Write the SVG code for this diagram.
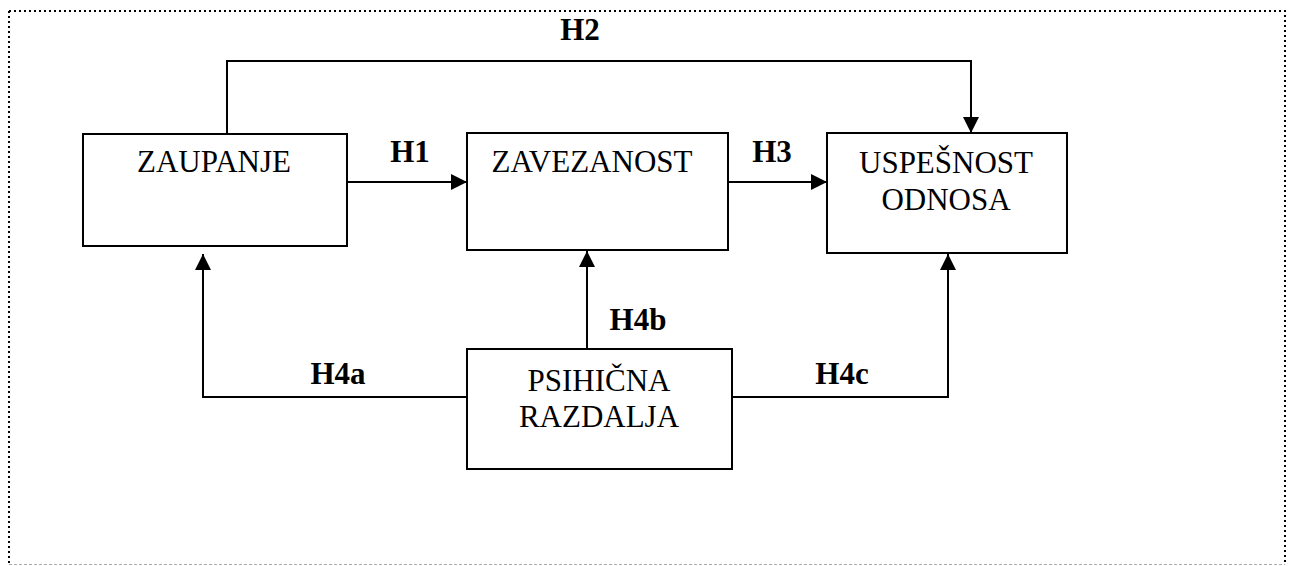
<svg xmlns="http://www.w3.org/2000/svg" width="1294" height="566" viewBox="0 0 1294 566">
  <style>
    .box { fill: #fff; stroke: #000; stroke-width: 2; }
    .name { font-family: "Liberation Serif", "Times New Roman", serif; font-size: 31px; fill: #000; text-anchor: middle; }
    .hyp { font-family: "Liberation Serif", "Times New Roman", serif; font-size: 31px; font-weight: bold; fill: #000; text-anchor: middle; }
    .link { fill: none; stroke: #000; stroke-width: 2; marker-end: url(#head); }
  </style>
  <defs>
    <marker id="head" markerUnits="userSpaceOnUse" markerWidth="16" markerHeight="16" refX="16" refY="8" orient="auto">
      <path d="M0,0 L16,8 L0,16 z" fill="#000"/>
    </marker>
  </defs>
  <rect width="1294" height="566" fill="#fff"/>

  <!-- dotted outer frame -->
  <g id="frame">
    <path d="M9 11 H1285 V565" fill="none" stroke="#000" stroke-width="2" stroke-dasharray="2 3"/>
    <path d="M9 11 V565" fill="none" stroke="#000" stroke-width="2" stroke-dasharray="2 3"/>
    <path d="M9 564.5 H1285" fill="none" stroke="#aaa" stroke-width="1" stroke-dasharray="3 2"/>
  </g>

  <!-- connectors and hypothesis labels -->
  <g id="connectors">
    <path class="link" d="M227 134 V61 H971 V133"/>
    <path class="link" d="M347 182 H467"/>
    <path class="link" d="M728 182 H827"/>
    <path class="link" d="M467 397 H203 V254"/>
    <path class="link" d="M587 349 V251"/>
    <path class="link" d="M732 397 H948 V254"/>
    <text class="hyp" x="580" y="40">H2</text>
    <text class="hyp" x="410" y="162">H1</text>
    <text class="hyp" x="772" y="162">H3</text>
    <text class="hyp" x="638" y="330">H4b</text>
    <text class="hyp" x="338" y="384">H4a</text>
    <text class="hyp" x="842" y="384">H4c</text>
  </g>

  <g id="zaupanje">
    <rect class="box" x="83" y="134" width="264" height="112"/>
    <text class="name" x="214" y="172">ZAUPANJE</text>
  </g>
  <g id="zavezanost">
    <rect class="box" x="467" y="133" width="261" height="117"/>
    <text class="name" x="592" y="172">ZAVEZANOST</text>
  </g>
  <g id="uspesnost">
    <rect class="box" x="827" y="133" width="240" height="120"/>
    <text class="name" x="946" y="173">USPEŠNOST</text>
    <text class="name" x="946" y="210">ODNOSA</text>
  </g>
  <g id="razdalja">
    <rect class="box" x="467" y="349" width="265" height="120"/>
    <text class="name" x="599" y="391">PSIHIČNA</text>
    <text class="name" x="599" y="427">RAZDALJA</text>
  </g>
</svg>
